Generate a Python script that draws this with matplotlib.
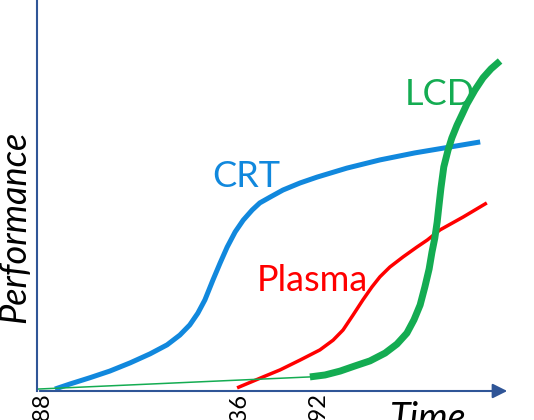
# technology S-curves: CRT, plasma, LCD performance over time
import numpy as np
import matplotlib.pyplot as plt

plt.rcParams['font.family'] = ['Lato', 'DejaVu Sans']

# values (x and y both on a 0-100 scale)
crt_x = [3.8, 7.0, 11.2, 15.4, 19.7, 23.9, 27.5, 30.2, 32.3, 34.0, 35.5, 37.2, 38.7, 40.2,
         41.9, 43.6, 45.5, 47.1, 49.3, 52.0, 55.6, 59.2, 65.5, 72.5, 79.9, 87.3, 93.7]
crt_y = [0.5, 1.8, 3.4, 5.1, 7.2, 9.5, 11.8, 14.3, 16.9, 19.9, 23.3, 28.4, 32.7, 36.8,
         40.7, 43.7, 46.3, 48.1, 49.6, 51.4, 53.2, 54.7, 57.0, 59.1, 60.9, 62.4, 63.7]

plasma_x = [42.3, 47.8, 51.4, 55.6, 59.8, 62.6, 64.7, 66.8, 68.9, 70.8, 72.5, 74.6, 77.4,
            80.3, 82.5, 85.2, 90.1, 95.1]
plasma_y = [0.8, 3.6, 5.4, 7.9, 10.5, 13.0, 15.6, 19.4, 23.3, 26.6, 29.2, 31.7, 34.3,
            36.8, 38.6, 41.2, 44.5, 48.1]

lcd_early_x = [0.2, 57.7]
lcd_early_y = [0.5, 3.6]
lcd_x = [57.7, 60.9, 64.1, 67.2, 70.4, 73.6, 76.1, 78.2, 79.7, 81.0, 82.0, 82.9, 83.5, 84.1,
         84.6, 85.0, 85.4, 86.0, 86.9, 87.7, 88.8, 89.9, 90.9, 92.6, 94.3, 96.0, 97.9]
lcd_y = [3.6, 4.1, 5.1, 6.4, 7.7, 9.7, 12.0, 14.8, 18.2, 22.0, 26.6, 31.2, 35.5, 39.1,
         43.2, 47.6, 51.9, 57.3, 61.6, 64.7, 68.0, 70.8, 73.4, 77.0, 80.1, 82.4, 84.4]

tick_pos = [1.0, 42.6, 59.4]
tick_labels = ['1888', '1936', '1992']

blue = '#1188DD'
red = '#FF0000'
green = '#14AC52'
axis_col = '#2F5597'

fig = plt.figure(figsize=(5.34, 4.2), dpi=100)
ax = fig.add_axes([37/534, 29/420, 473/534, 391/420])
ax.set_xlim(0, 100)
ax.set_ylim(0, 100)

ax.plot(crt_x, crt_y, color=blue, lw=3.6, solid_capstyle='butt', solid_joinstyle='round', clip_on=False)
ax.plot(plasma_x, plasma_y, color=red, lw=2.5, solid_capstyle='butt', solid_joinstyle='round', clip_on=False)
ax.plot(lcd_early_x, lcd_early_y, color=green, lw=1.1, clip_on=False)
ax.plot(lcd_x, lcd_y, color=green, lw=5.0, solid_capstyle='butt', solid_joinstyle='round', clip_on=False)

ax.text(37.0, 52.2, 'CRT', color=blue, fontsize=26, va='baseline')
ax.text(46.5, 25.6, 'Plasma', color=red, fontsize=26, va='baseline')
ax.text(77.8, 73.1, 'LCD', color=green, fontsize=26, va='baseline')

# axes: left spine plus an arrow for time
for s in ['top', 'right', 'bottom']:
    ax.spines[s].set_visible(False)
ax.spines['left'].set_color(axis_col)
ax.spines['left'].set_linewidth(1.5)
ax.annotate('', xy=(1.0, 0), xytext=(0, 0), xycoords='axes fraction',
            arrowprops=dict(arrowstyle='-|>', color=axis_col, lw=1.5, mutation_scale=22),
            annotation_clip=False)

ax.set_yticks([])
ax.set_xticks(tick_pos)
ax.set_xticklabels(tick_labels, rotation=90, fontsize=17, va='top')
ax.tick_params(axis='x', length=0, pad=1)

fig.text(14.5/534, 1 - 227/420, 'Performance', rotation=90, fontsize=26, style='italic',
         ha='center', va='center')
fig.text(390/534, -10/420, 'Time', fontsize=27, style='italic', ha='left', va='baseline')

fig.savefig('out.png', dpi=100)
